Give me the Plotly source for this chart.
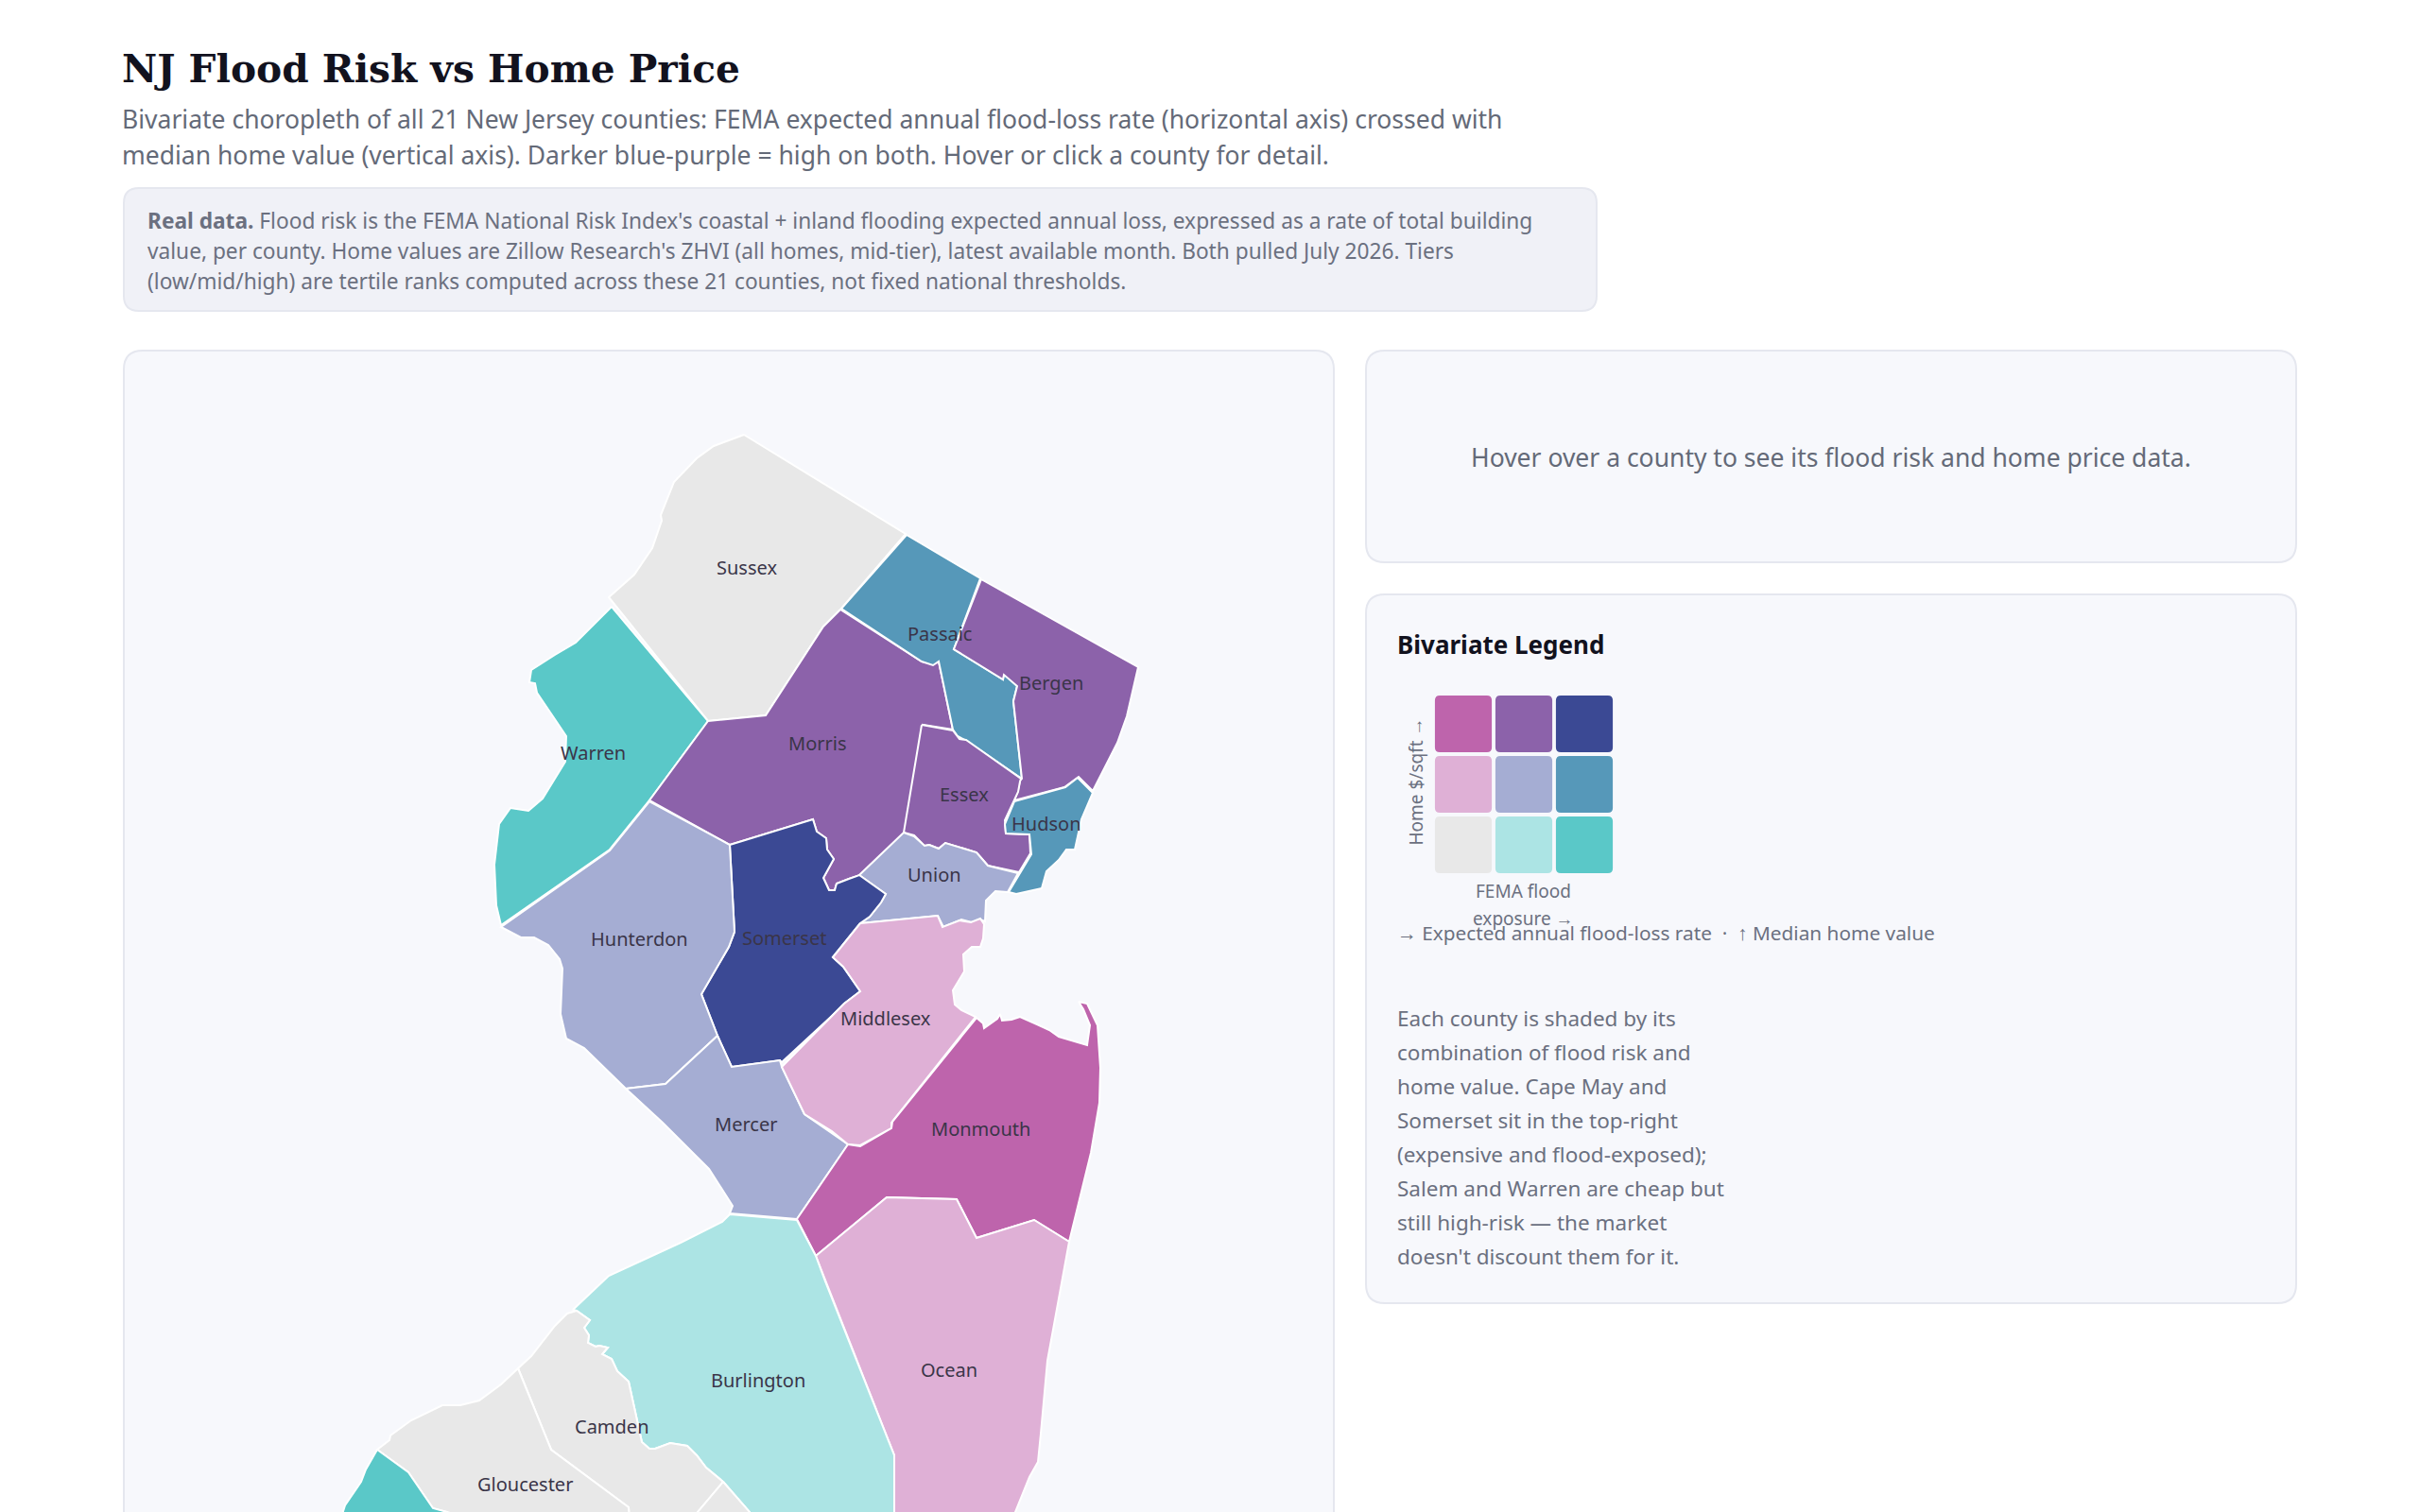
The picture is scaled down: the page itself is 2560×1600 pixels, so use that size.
import plotly.graph_objects as go

# Bivariate palette: rows are price tier (low to high), columns are flood tier (low to high)
palette_low = ["#e8e8e8", "#ace4e4", "#5ac8c8"]
palette_mid = ["#dfb0d6", "#a5add3", "#5698b9"]
palette_high = ["#be64ac", "#8c62aa", "#3b4994"]
palette = [palette_low, palette_mid, palette_high]

# County outlines
sussex = [(787, 460), (958, 565), (890, 644), (871, 663), (810, 757), (749, 763), (644, 632), (671, 608), (690, 580), (700, 551), (699, 545), (713, 510), (737, 485), (755, 472)]
warren = [(647, 642), (749, 763), (687, 847), (645, 899), (530, 979), (525, 958), (523, 915), (528, 872), (540, 855), (559, 858), (574, 845), (598, 806), (599, 779), (568, 733), (566, 723), (560, 722), (562, 709), (587, 693), (609, 680)]
morris = [(889, 645), (975, 700), (987, 702), (993, 700), (1008, 772), (976, 767), (957, 881), (910, 926), (898, 930), (885, 935), (883, 942), (877, 942), (871, 929), (882, 909), (875, 899), (874, 887), (864, 880), (860, 867), (772, 894), (687, 847), (749, 763), (810, 757), (871, 663)]
passaic = [(959, 566), (1037, 612), (1009, 687), (1061, 719), (1062, 713), (1076, 726), (1072, 742), (1081, 824), (1021, 783), (1013, 779), (1008, 772), (993, 700), (987, 704), (975, 700), (890, 644)]
bergen = [(1038, 613), (1204, 706), (1192, 758), (1182, 786), (1156, 837), (1141, 822), (1126, 833), (1073, 847), (1077, 836), (1079, 826), (1081, 824), (1072, 742), (1076, 726), (1062, 714), (1061, 719), (1009, 687)]
essex = [(975, 767), (1008, 773), (1015, 782), (1022, 783), (1080, 824), (1079, 827), (1077, 838), (1073, 847), (1063, 868), (1064, 882), (1089, 883), (1090, 903), (1078, 923), (1045, 916), (1033, 902), (1000, 892), (993, 898), (983, 894), (978, 895), (967, 884), (956, 881)]
hudson = [(1073, 848), (1127, 833), (1140, 823), (1156, 839), (1144, 867), (1137, 899), (1128, 899), (1120, 910), (1107, 922), (1102, 940), (1075, 946), (1067, 944), (1091, 904), (1089, 883), (1064, 882), (1063, 872)]
union = [(956, 881), (967, 885), (978, 895), (983, 894), (993, 898), (1000, 892), (1033, 902), (1045, 916), (1077, 924), (1066, 944), (1053, 943), (1043, 953), (1042, 975), (1037, 973), (1028, 976), (1017, 973), (998, 981), (992, 969), (910, 977), (920, 970), (932, 955), (937, 946), (909, 926)]
somerset = [(772, 894), (860, 867), (864, 880), (874, 887), (875, 899), (882, 909), (871, 929), (877, 942), (883, 942), (885, 935), (898, 930), (909, 926), (937, 946), (932, 955), (920, 970), (910, 977), (881, 1013), (892, 1023), (910, 1049), (893, 1062), (880, 1075), (827, 1124), (825, 1122), (774, 1129), (759, 1096), (742, 1052), (771, 1002), (777, 986)]
hunterdon = [(687, 848), (772, 894), (777, 986), (771, 1002), (742, 1052), (759, 1096), (704, 1147), (662, 1152), (618, 1109), (599, 1099), (593, 1073), (595, 1025), (592, 1015), (580, 1000), (565, 992), (551, 992), (530, 981), (645, 900)]
mercer = [(759, 1096), (774, 1129), (825, 1122), (827, 1129), (851, 1179), (897, 1211), (843, 1290), (772, 1284), (775, 1276), (750, 1237), (701, 1188), (662, 1152), (704, 1147)]
middlesex = [(910, 977), (992, 969), (997, 981), (1015, 974), (1027, 976), (1037, 972), (1041, 978), (1040, 993), (1037, 1002), (1028, 1002), (1019, 1010), (1020, 1028), (1008, 1048), (1010, 1063), (1017, 1069), (1032, 1076), (943, 1188), (943, 1194), (910, 1212), (897, 1211), (880, 1197), (851, 1179), (827, 1129), (880, 1075), (893, 1062), (910, 1049), (892, 1023), (881, 1013)]
monmouth = [(1033, 1077), (1040, 1083), (1041, 1088), (1055, 1078), (1058, 1073), (1060, 1080), (1070, 1079), (1079, 1076), (1097, 1084), (1110, 1090), (1120, 1097), (1150, 1106), (1153, 1085), (1146, 1068), (1141, 1060), (1150, 1062), (1161, 1085), (1164, 1130), (1163, 1167), (1154, 1220), (1131, 1314), (1094, 1291), (1033, 1310), (1012, 1269), (938, 1267), (863, 1329), (843, 1290), (897, 1211), (910, 1213), (943, 1194), (944, 1187)]
ocean = [(938, 1267), (1012, 1269), (1033, 1310), (1094, 1291), (1131, 1314), (1118, 1383), (1108, 1440), (1101, 1517), (1098, 1547), (1089, 1563), (1074, 1600), (1060, 1640), (946, 1640), (946, 1540), (873, 1356), (863, 1329)]
burlington = [(772, 1285), (843, 1291), (863, 1329), (873, 1356), (946, 1540), (946, 1640), (820, 1640), (793, 1600), (765, 1568), (747, 1553), (737, 1540), (727, 1530), (709, 1527), (693, 1533), (687, 1533), (679, 1526), (665, 1462), (653, 1451), (647, 1438), (637, 1433), (643, 1426), (634, 1424), (630, 1425), (622, 1421), (623, 1413), (618, 1405), (624, 1397), (610, 1387), (606, 1386), (644, 1350), (720, 1315), (764, 1293)]
camden = [(610, 1387), (600, 1390), (587, 1403), (562, 1435), (548, 1448), (583, 1534), (665, 1595), (668, 1640), (710, 1640), (738, 1600), (765, 1568), (747, 1553), (737, 1540), (727, 1530), (709, 1527), (693, 1533), (687, 1533), (679, 1526), (665, 1462), (653, 1451), (647, 1438), (637, 1433), (643, 1426), (634, 1424), (630, 1425), (622, 1421), (623, 1413), (618, 1405), (624, 1397)]
gloucester = [(548, 1448), (530, 1465), (507, 1482), (487, 1487), (468, 1487), (435, 1503), (413, 1519), (412, 1524), (399, 1534), (432, 1558), (458, 1596), (473, 1600), (600, 1640), (668, 1640), (665, 1595), (583, 1534)]
salem = [(399, 1534), (432, 1558), (458, 1596), (473, 1600), (500, 1640), (350, 1640), (365, 1593), (382, 1568), (387, 1555)]
atlantic = [(765, 1568), (793, 1600), (820, 1640), (710, 1640), (738, 1600)]

county_names = ["Sussex", "Warren", "Morris", "Passaic", "Bergen", "Essex", "Hudson", "Union", "Somerset", "Hunterdon",
                "Mercer", "Middlesex", "Monmouth", "Ocean", "Burlington", "Camden", "Gloucester", "Salem", "Atlantic"]
county_shapes = [sussex, warren, morris, passaic, bergen, essex, hudson, union, somerset, hunterdon,
                 mercer, middlesex, monmouth, ocean, burlington, camden, gloucester, salem, atlantic]
flood_tier = [0, 2, 1, 2, 1, 1, 2, 1, 2, 1, 1, 0, 0, 0, 1, 0, 0, 2, 0]
price_tier = [0, 0, 2, 1, 2, 2, 1, 1, 2, 1, 1, 1, 2, 1, 0, 0, 0, 0, 0]

label_names = ["Sussex", "Passaic", "Bergen", "Warren", "Morris", "Essex", "Hudson", "Union", "Hunterdon", "Somerset",
               "Middlesex", "Mercer", "Monmouth", "Burlington", "Ocean", "Camden", "Gloucester"]
label_x = [790, 994, 1112, 627, 865, 1020, 1107, 988, 676, 829, 937, 789, 1037, 802, 1004, 647, 555]
label_y = [601, 671, 723, 797, 787, 841, 872, 926, 994, 993, 1078, 1190, 1195, 1461, 1450, 1510, 1571]

subtitle_lines = [
    "Bivariate choropleth of all 21 New Jersey counties: FEMA expected annual flood-loss rate (horizontal axis) crossed with",
    "median home value (vertical axis). Darker blue-purple = high on both. Hover or click a county for detail.",
]
note_lines = [
    "<b>Real data.</b> Flood risk is the FEMA National Risk Index's coastal + inland flooding expected annual loss, expressed as a rate of total building",
    "value, per county. Home values are Zillow Research's ZHVI (all homes, mid-tier), latest available month. Both pulled July 2026. Tiers",
    "(low/mid/high) are tertile ranks computed across these 21 counties, not fixed national thresholds.",
]
body_lines = [
    "Each county is shaded by its", "combination of flood risk and", "home value. Cape May and",
    "Somerset sit in the top-right", "(expensive and flood-exposed);", "Salem and Warren are cheap but",
    "still high-risk — the market", "doesn't discount them for it.",
]

FONT = "Noto Sans"
GREY = "#6b7080"


def rounded(x0, y0, x1, y1, r):
    return (f"M{x0 + r},{y0} L{x1 - r},{y0} Q{x1},{y0} {x1},{y0 + r} L{x1},{y1 - r} Q{x1},{y1} {x1 - r},{y1} "
            f"L{x0 + r},{y1} Q{x0},{y1} {x0},{y1 - r} L{x0},{y0 + r} Q{x0},{y0} {x0 + r},{y0} Z")


def text(x, y, s, size, color=GREY, anchor="left", family=FONT, angle=0):
    fig.add_annotation(x=x, y=y - 1.5, text=s, showarrow=False, xanchor=anchor, yanchor="middle", textangle=angle,
                       align="left", font=dict(family=family, size=size, color=color))


fig = go.Figure()

# Cards behind everything
cards = [(131, 199, 1689, 329, 16, "#f0f1f7"), (131, 371, 1411, 1700, 20, "#f7f8fc"),
         (1445, 371, 2429, 595, 20, "#f7f8fc"), (1445, 629, 2429, 1379, 20, "#f7f8fc")]
for x0, y0, x1, y1, r, fill in cards:
    fig.add_shape(type="path", path=rounded(x0, y0, x1, y1, r), fillcolor=fill,
                  line=dict(color="#e5e7ef", width=2), layer="below")

# Counties
for name, shape, ft, pt in zip(county_names, county_shapes, flood_tier, price_tier):
    xs = [p[0] for p in shape] + [shape[0][0]]
    ys = [p[1] for p in shape] + [shape[0][1]]
    fig.add_trace(go.Scatter(x=xs, y=ys, mode="lines", fill="toself", fillcolor=palette[pt][ft],
                             line=dict(color="white", width=2), name=name, hoveron="fills",
                             showlegend=False))

for name, x, y in zip(label_names, label_x, label_y):
    text(x, y + 1, name, 20, color="#3a3548", anchor="center")

# Legend grid, on its own small axes with one unit per tier
for pt in range(3):
    for ft in range(3):
        fig.add_shape(type="path", xref="x2", yref="y2", path=rounded(ft + 0.03, pt + 0.03, ft + 0.97, pt + 0.97, 0.08),
                      fillcolor=palette[pt][ft], line=dict(width=0))

# Page text
text(127, 74, "<b>NJ Flood Risk vs Home Price</b>", 40.7, color="#12121e", family="DejaVu Serif")
for i, line in enumerate(subtitle_lines):
    text(127, 127 + i * 38, line, 26.5, color="#646a78")
for i, line in enumerate(note_lines):
    text(154, 235 + i * 32, line, 22.7, color=GREY)
text(1937, 485, "Hover over a county to see its flood risk and home price data.", 26.5, color="#646a78", anchor="center")
text(1476, 683.5, "<b>Bivariate Legend</b>", 26, color="#12121e")
text(1497, 829, "Home $/sqft →", 19, angle=-90, anchor="center")
text(1611, 944, "FEMA flood", 19, anchor="center")
text(1611, 973, "exposure →", 19, anchor="center")
text(1476, 988, "→ Expected annual flood-loss rate  ·  ↑ Median home value", 20.8)
for i, line in enumerate(body_lines):
    text(1476, 1079 + i * 36, line, 22.5)

fig.update_layout(
    width=2560, height=1600, margin=dict(l=0, r=0, t=0, b=0), paper_bgcolor="white", plot_bgcolor="rgba(0,0,0,0)",
    xaxis=dict(range=[0, 2560], visible=False, domain=[0, 1]),
    yaxis=dict(range=[1600, 0], visible=False, domain=[0, 1]),
    xaxis2=dict(range=[0, 3], visible=False, domain=[1516 / 2560, 1708 / 2560], anchor="y2"),
    yaxis2=dict(range=[0, 3], visible=False, domain=[1 - 926 / 1600, 1 - 734 / 1600], anchor="x2"),
)

fig.write_html("out.html", config=dict(displayModeBar=False), post_script="document.body.style.margin='0';")
